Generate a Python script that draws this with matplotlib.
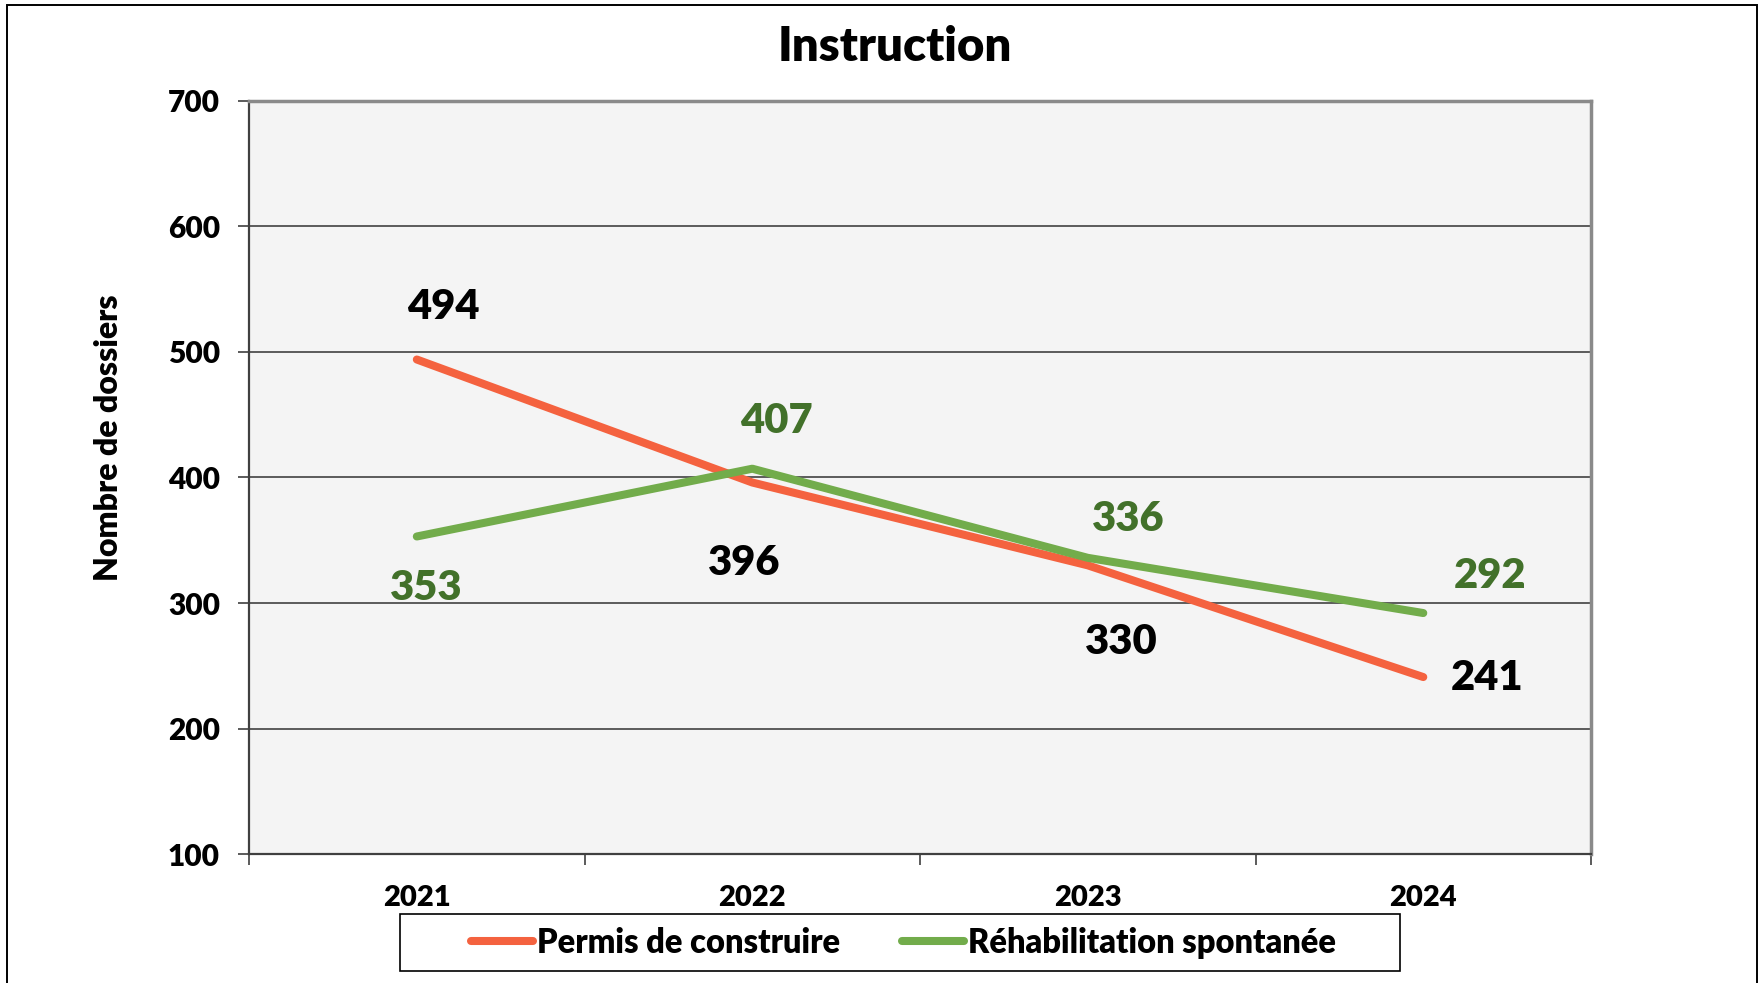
# Instruction: number of files handled per year, two procedures
import matplotlib.pyplot as plt
from matplotlib.patches import Rectangle

plt.rcParams['font.family'] = ['Lato', 'DejaVu Sans']
plt.rcParams['font.weight'] = 'bold'

years = ['2021', '2022', '2023', '2024']
permis = [494, 396, 330, 241]
rehab = [353, 407, 336, 292]
yticks = [100, 200, 300, 400, 500, 600, 700]

red = '#F4623F'
green = '#72AC4B'
green_txt = '#42712A'

W, H = 1759, 983
fig = plt.figure(figsize=(W / 100, H / 100), dpi=100)
ax = fig.add_axes([0.1416, 0.1312, 0.7629, 0.7661])
ax.set_facecolor('#F4F4F4')

x = list(range(len(years)))
ax.plot(x, permis, color=red, lw=5.8, solid_capstyle='round', label='Permis de construire', zorder=3)
ax.plot(x, rehab, color=green, lw=5.8, solid_capstyle='round', label='Réhabilitation spontanée', zorder=3)

ax.set_xlim(-0.5, 3.5)
ax.set_ylim(100, 700)
ax.set_yticks(yticks)
ax.set_yticklabels([str(v) for v in yticks], fontsize=21.5, fontweight='heavy')
ax.set_xticks([-0.5, 0.5, 1.5, 2.5, 3.5])
ax.set_xticklabels([])
ax.set_xticks(x, minor=True)
ax.set_xticklabels(years, minor=True, fontsize=21, fontweight='heavy')
ax.tick_params(axis='x', which='minor', length=0, pad=22)
ax.tick_params(axis='x', which='major', length=8, width=1.2, color='#404040', direction='out')
ax.tick_params(axis='y', length=8, width=1.2, color='#404040', direction='out', pad=13)

for v in yticks[1:-1]:
    ax.axhline(v, color='#505050', lw=1.3, zorder=1)

for side in ['top', 'right']:
    ax.spines[side].set_color('#8A8A8A')
    ax.spines[side].set_linewidth(2.5)
for side in ['left', 'bottom']:
    ax.spines[side].set_color('#404040')
    ax.spines[side].set_linewidth(1.6)

ax.set_ylabel('Nombre de dossiers', fontsize=23, fontweight='heavy')
ax.yaxis.set_label_coords(-0.094, 0.553)

# data labels, offsets in points from each point
permis_off = [(19, 38), (-6, -58), (24, -55), (46, -1)]
rehab_off = [(7, -37), (17, 34), (29, 28), (48, 27)]
for i, v in enumerate(permis):
    ax.annotate(str(v), (x[i], v), xytext=permis_off[i], textcoords='offset points',
                ha='center', va='center', fontsize=30, fontweight='heavy', color='black')
for i, v in enumerate(rehab):
    ax.annotate(str(v), (x[i], v), xytext=rehab_off[i], textcoords='offset points',
                ha='center', va='center', fontsize=30, fontweight='heavy', color=green_txt)

fig.text(0.5085, 0.952, 'Instruction', ha='center', va='center', fontsize=34, fontweight='heavy')

leg = fig.legend(loc='center', bbox_to_anchor=(0.5135, 0.0412), ncol=2,
                 prop={'size': 23.5, 'weight': 'heavy'}, frameon=False,
                 handlelength=1.9, handletextpad=0.12, columnspacing=1.9)
for h in leg.get_lines():
    h.set_linewidth(5.8)

# legend box, wider than the legend content
fig.patches.append(Rectangle((400 / W, 1 - 971 / H), 1000 / W, 57 / H,
                             transform=fig.transFigure, fill=False, edgecolor='black', lw=1.2))

# outer chart border
fig.patches.append(Rectangle((7 / W, -0.02), 1750 / W, 1 - 5 / H + 0.02,
                             transform=fig.transFigure, fill=False, edgecolor='black', lw=1.4))

fig.savefig('out.png', dpi=100)
